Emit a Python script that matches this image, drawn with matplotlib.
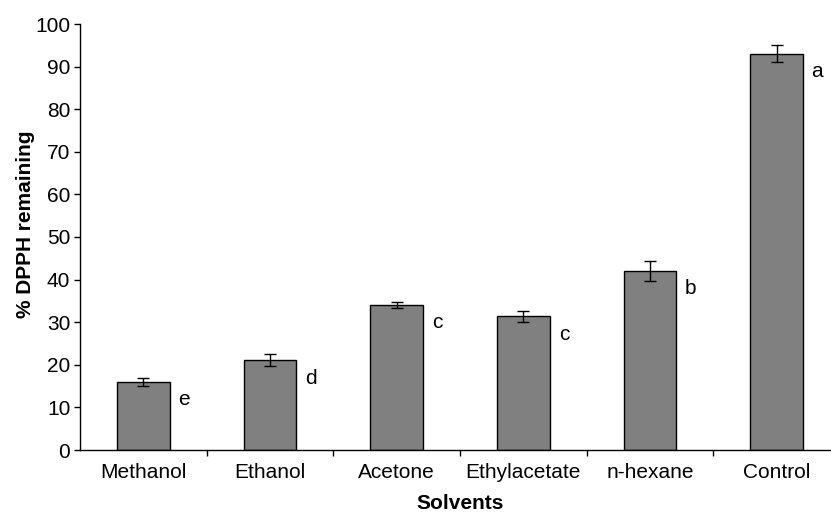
"""
Bar chart: % DPPH remaining by extraction solvent
"""

import numpy as np
import matplotlib
matplotlib.use("Agg")
import matplotlib.pyplot as plt

plt.rcParams['font.family'] = ['Liberation Sans', 'DejaVu Sans']

# data
solvents = ['Methanol', 'Ethanol', 'Acetone', 'Ethylacetate', 'n-hexane', 'Control']
dpph_remaining = [16.0, 21.1, 34.1, 31.4, 42.0, 93.0]
std_err = [1.0, 1.4, 0.7, 1.3, 2.3, 2.0]
letters = ['e', 'd', 'c', 'c', 'b', 'a']

W, H = 831, 516
fig = plt.figure(figsize=(W / 100, H / 100), dpi=100)
# axes: left 80px, bottom at 450px, top at 24px, right runs past the image edge
ax = fig.add_axes([80 / W, (H - 450) / H, 760 / W, 426 / H])

x = np.arange(len(solvents))
ax.bar(x, dpph_remaining, width=0.415, color='#808080', edgecolor='black',
       linewidth=1.0, zorder=2)
ax.errorbar(x, dpph_remaining, yerr=std_err, fmt='none', ecolor='black',
            elinewidth=1.0, capsize=4, capthick=1.0, zorder=3)

# significance letters, right of each bar, a bit below the top
for xi, val, let in zip(x, dpph_remaining, letters):
    ax.text(xi + 0.32, val - 4.2, let, fontsize=15, ha='center', va='center')

ax.set_xlim(-0.5, len(solvents) - 0.5)
ax.set_ylim(0, 100)
ax.set_yticks(np.arange(0, 101, 10))

# category labels centered, tick marks on category boundaries
ax.set_xticks(x)
ax.set_xticklabels(solvents, fontsize=15)
ax.set_xticks(np.arange(len(solvents)) + 0.5, minor=True)
ax.tick_params(axis='x', which='major', length=0, pad=9)
ax.tick_params(axis='x', which='minor', length=4, width=1, direction='out')
ax.tick_params(axis='y', length=4, width=1, direction='out', labelsize=15, pad=3)

for side in ['top', 'right']:
    ax.spines[side].set_visible(False)
for side in ['left', 'bottom']:
    ax.spines[side].set_linewidth(1.0)

ax.set_xlabel('Solvents', fontsize=15, fontweight='bold')
ax.xaxis.set_label_coords(0.5, -0.104)
ax.set_ylabel('% DPPH remaining', fontsize=15, fontweight='bold', va='center')
ax.yaxis.set_label_coords(-0.072, 0.53)

fig.savefig('out.png', dpi=100)
